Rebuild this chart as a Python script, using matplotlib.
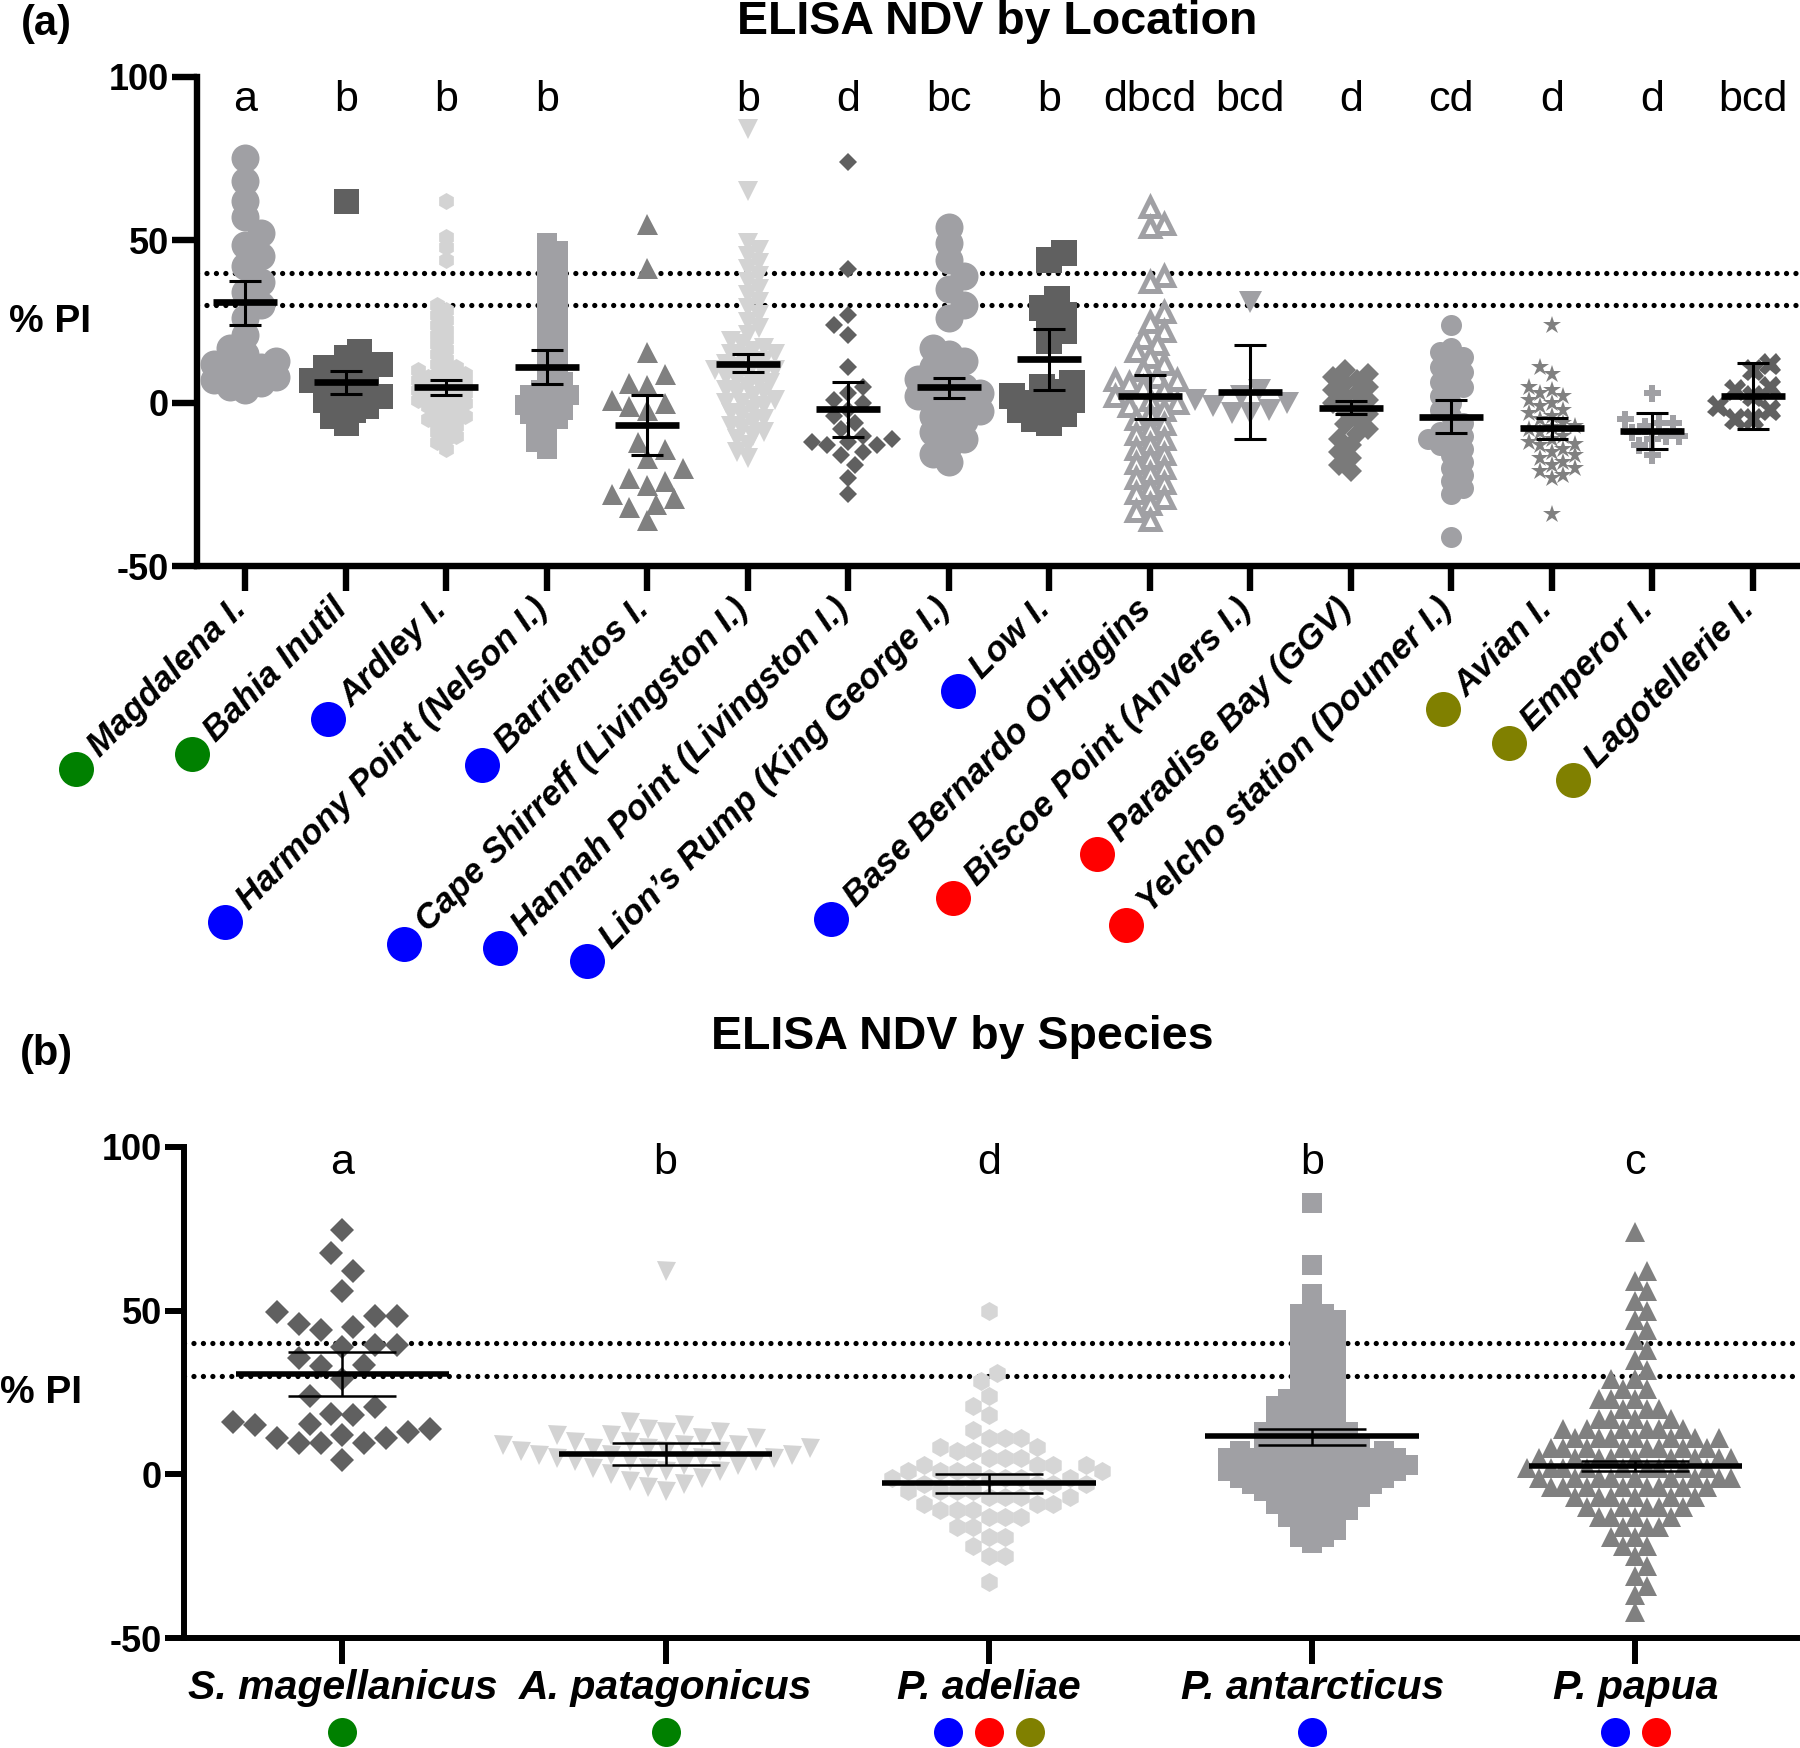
import numpy as np
import matplotlib
matplotlib.use("Agg")
import matplotlib.pyplot as plt
from matplotlib import transforms

plt.rcParams['font.family'] = ['Liberation Sans', 'DejaVu Sans']
plt.rcParams['lines.scale_dashes'] = False
plt.rcParams['axes.unicode_minus'] = False

W, H = 1800, 1748

# ---------------- (a) ELISA NDV by Location ----------------
locations = ['Magdalena I.', 'Bahia Inutil', 'Ardley I.', 'Harmony Point (Nelson I.)',
             'Barrientos I.', 'Cape Shirreff (Livingston I.)', 'Hannah Point (Livingston I.)',
             'Lion\u2019s Rump (King George I.)', 'Low I.', "Base Bernardo O'Higgins",
             'Biscoe Point (Anvers I.)', 'Paradise Bay (GGV)', 'Yelcho station (Doumer I.)',
             'Avian I.', 'Emperor I.', 'Lagotellerie I.']
loc_region = ['green', 'green', 'blue', 'blue', 'blue', 'blue', 'blue', 'blue', 'blue', 'blue',
              'red', 'red', 'red', 'olive', 'olive', 'olive']
loc_letters = ['a', 'b', 'b', 'b', '', 'b', 'd', 'bc', 'b', 'dbcd', 'bcd', 'd', 'cd', 'd', 'd', 'bcd']

magdalena = [75, 68, 62, 57, 52, 48.5, 45, 42, 37, 34, 30, 26, 21,
             17, 15, 13, 12, 11, 10, 9, 8, 7, 6, 5, 4]
bahia = [62, 16, 14, 12, 11, 10, 9, 8, 7, 6, 5, 4, 3, 2, 1, 0, -1, -2, -4, -6]
ardley_levels = [62, 51, 48, 44, 30, 28.5, 27, 25.5, 24, 22.5, 21, 19.5, 18, 16.5, 15, 13.5, 12,
                 11, 10, 9, 8, 7, 6, 5, 4, 3, 2, 1, 0, -1, -2, -3,
                 -4, -5, -6, -7, -8, -9, -10, -11, -12, -14]
ardley_counts = [1, 1, 1, 1, 1, 1, 1, 1, 1, 1, 1, 1, 1, 1, 1, 1, 1,
                 1, 2, 2, 2, 2, 2, 2, 2, 2, 2, 2, 2, 2, 1, 1,
                 2, 2, 1, 1, 1, 1, 1, 1, 1, 1]
harmony_levels = [49, 46.5, 44, 41.5, 39, 36.5, 34, 31.5, 29, 26.5, 24,
                  21.5, 19, 16.5, 14, 11.5, 9, 6.5,
                  4, 2.5, 1, -0.5, -2, -3.5, -5, -6.5, -8, -10, -12, -14]
harmony_counts = [1] * 18 + [2, 2, 2, 2, 2, 2, 1, 1, 1, 1, 1, 1]
barrientos = [55, 41.5, 15.5, 9, 6, 5.5, 1, 0, -1, -2, -12, -14, -17, -20, -23, -24, -25, -28,
              -29, -31, -32, -36]
shirreff_levels = [84, 65, 49, 47, 45, 43, 41, 39, 37, 35, 33, 31, 29, 27, 25, 23, 21,
                   19, 18, 17, 16, 15, 14, 13, 12, 11, 10,
                   9, 8, 7, 6, 5, 4, 3, 2, 1, 0, -1, -2, -3,
                   -4, -5, -6, -7, -8, -9, -10, -11, -13, -15, -17]
shirreff_counts = [1] * 17 + [1, 1, 1, 1, 2, 1, 1, 2, 1, 2] + [2, 1, 1, 2, 1, 1, 2, 1, 1, 2, 1, 1, 1] + [1] * 11
hannah = [74, 41, 27, 24, 21, 11, 5, 3, 1, 0, -2, -4, -6, -8, -10, -11, -12, -12, -13, -13,
          -15, -16, -19, -23, -28]
lions_rump = [54, 49, 44, 39, 35, 30, 26, 17, 15, 13, 11, 9, 7.5, 6, 5, 4, 3, 2, 1, 0,
              -1, -2.5, -4, -5.5, -7, -9, -11, -13, -15.5, -18]
low = [46, 44, 32, 29, 27, 25, 22, 19, 6, 5, 3.5, 2, 1, 0, -1, -2, -3.5, -5, -6]
ohiggins = [60, 55, 54, 39, 37, 28, 25, 22, 20, 18, 16, 14, 12, 10, 8, 7, 7, 6, 5, 4, 2, 1, 0,
            -1, -2, -3.5, -5, -6.5, -8, -9.5, -11, -12.5, -14, -15.5, -17, -18.5, -20, -21.5, -23,
            -24.5, -26, -27.5, -29, -31, -33, -36]
biscoe = [31, 4, 2, 1, 0, -1, -2, -3, -3]
paradise = [10, 9, 8, 7, 6, 5, 4, 3, 2, 1, 0, -1, -2, -3.5, -5, -6.5, -8, -9.5, -11, -13, -15,
            -17, -19, -21]
yelcho = [24, 17, 15.5, 14, 12.5, 11, 9.5, 8, 6.5, 5, 4, 2, 0, -2, -4, -6, -8, -9, -10, -11, -12,
          -13, -14, -16, -18, -20, -22, -24, -26, -28, -41]
avian = [24, 11, 9, 5, 4, 3, 2, 1, 0, -1, -2, -3, -4, -5, -6, -7, -7.5, -8, -9, -10, -11, -12,
         -12.5, -13, -14, -15, -16, -17, -18, -19, -20, -21, -22, -23, -34]
emperor = [3, -5, -6, -6, -7, -9, -10, -10, -11, -13, -16]
lagotellerie = [12, 10, 5, 4, 2, -1, -2, -5, -5]

ardley = np.repeat(ardley_levels, ardley_counts)
harmony = np.repeat(harmony_levels, harmony_counts)
shirreff = np.repeat(shirreff_levels, shirreff_counts)

loc_values = [magdalena, bahia, ardley, harmony, barrientos, shirreff, hannah, lions_rump,
              low, ohiggins, biscoe, paradise, yelcho, avian, emperor, lagotellerie]
loc_mean = [31, 6.5, 4.8, 11, -6.9, 12.1, -1.8, 4.8, 13.5, 2.2, 3.3, -1.5, -4.3, -7.7, -8.5, 2.2]
loc_ci_hi = [37.4, 9.9, 7.0, 16.4, 2.4, 15.0, 6.5, 7.8, 22.7, 8.6, 17.8, 0.6, 0.8, -4.5, -3.2, 12.2]
loc_ci_lo = [23.8, 2.8, 2.5, 5.9, -16.1, 9.4, -10.5, 1.4, 4.0, -4.9, -11.0, -3.5, -9.2, -11.1,
             -14.0, -8.1]

# ---------------- (b) ELISA NDV by Species ----------------
species = ['S. magellanicus', 'A. patagonicus', 'P. adeliae', 'P. antarcticus', 'P. papua']
species_regions = [['green'], ['green'], ['blue', 'red', 'olive'], ['blue'], ['blue', 'red']]
species_letters = ['a', 'b', 'd', 'b', 'c']

s_magellanicus = [74.5, 67.5, 62, 56, 49.5, 48.5, 48.5, 44, 45, 46, 39, 39.5, 39.5, 35.5, 33, 33.5,
                  29, 24, 20.5, 18.5, 18, 14, 16, 15.5, 15, 11, 11, 9.5, 9.5, 9.5, 12, 13, 4.5]
a_patagonicus = [62, 16, 15, 14, 13, 13, 12, 12, 11, 11, 10, 10, 9, 9, 9, 8, 8, 8, 7, 7, 7, 6, 6, 6,
                 5, 5, 5, 4, 4, 4, 3, 3, 2, 2, 1, 1, 0, -1, -2, -3, -4, -5]
adeliae_levels = [50, 31, 28.5, 24, 21, 18, 13.5, 11, 8.5, 7, 5, 3, 1, -1, -3, -5, -7, -9, -11, -13,
                  -16, -19, -22, -25, -33]
adeliae_counts = [1, 1, 1, 1, 1, 1, 1, 3, 2, 2, 3, 4, 5, 5, 4, 4, 4, 3, 3, 3, 2, 2, 1, 2, 1]
antarcticus_levels = [83, 64, 55, 51, 49, 47, 45, 43, 41, 39, 37, 35, 33, 31, 29, 27, 25,
                      23, 21, 19, 17, 15, 13, 11, 9, 7, 5, 3, 1, -1, -3,
                      -5, -7, -9, -11, -13, -15, -17, -19, -21]
antarcticus_counts = [1, 1, 1, 1, 2, 2, 2, 2, 2, 2, 2, 2, 2, 2, 2, 2, 2,
                      3, 3, 3, 3, 3, 4, 4, 4, 7, 8, 8, 8, 7, 6,
                      5, 4, 4, 3, 3, 2, 2, 2, 1]
papua_levels = [74, 62, 59, 56, 53, 50, 47, 44, 41, 38, 35, 32, 29, 26, 23, 20, 17, 14, 11, 8, 5, 2,
                -1, -4, -7, -10, -13, -16, -19, -22, -25, -28, -31, -34, -37, -42]
papua_counts = [1, 1, 1, 1, 1, 1, 1, 1, 1, 1, 1, 1, 2, 2, 3, 3, 4, 6, 7, 8, 9, 9,
                9, 8, 6, 5, 4, 3, 2, 2, 1, 1, 1, 1, 1, 1]

p_adeliae = np.repeat(adeliae_levels, adeliae_counts)
p_antarcticus = np.repeat(antarcticus_levels, antarcticus_counts)
p_papua = np.repeat(papua_levels, papua_counts)
sp_values = [s_magellanicus, a_patagonicus, p_adeliae, p_antarcticus, p_papua]
sp_mean = [30.8, 6.3, -2.7, 11.6, 2.6]
sp_ci_hi = [37.3, 9.7, 0.0, 14.0, 4.1]
sp_ci_lo = [23.9, 2.9, -5.7, 9.1, 0.9]

# ---------------- styles ----------------
region_color = {'green': '#008000', 'blue': '#0000ff', 'red': '#ff0000', 'olive': '#808000'}
loc_marker = ['o', 's', 'h', 's', '^', 'v', 'D', 'o', 's', '^', 'v', 'D', 'o', '*', 'P', 'X']
loc_color = ['#a0a0a4', '#606060', '#d3d3d3', '#a0a0a4', '#808080', '#d3d3d3', '#606060', '#a0a0a4',
             '#606060', '#a0a0a4', '#a0a0a4', '#7a7a7a', '#a0a0a4', '#808080', '#a0a0a4', '#606060']
loc_size = [28, 25, 17, 20, 21, 20, 17, 28, 27, 23, 23, 21, 21, 19, 17, 22]
loc_tight = [0.55, 0.55, 0.55, 0.55, 0.85, 0.55, 0.85, 0.55, 0.55, 0.6, 0.8, 0.55, 0.55, 0.6, 0.8, 0.8]
sp_marker = ['D', 'v', 'h', 's', '^']
sp_color = ['#606060', '#d3d3d3', '#d6d6d6', '#a0a0a4', '#808080']
sp_size = [23, 19, 19, 20, 20]
sp_tight = [0.95, 0.95, 0.85, 0.6, 0.6]


def swarm(vals, size_px, pxx, pxy, tight):
    y = np.asarray(vals, float) * pxy
    d = size_px * tight
    step = d / 2.0
    xs = np.zeros(len(y))
    px, py = [], []
    for i in np.argsort(y, kind='stable'):
        sign = 1 if len(px) % 2 == 0 else -1
        parr, qarr = np.array(px), np.array(py)
        for k in range(800):
            c = ((k + 1) // 2) * step * (1 if k % 2 else -1) * sign
            if len(px) == 0 or np.all((parr - c) ** 2 + (qarr - y[i]) ** 2 >= d * d - 1e-6):
                break
        xs[i] = c
        px.append(c)
        py.append(y[i])
    return xs / pxx


def draw_panel(ax, values, markers, colors, sizes, tights, means, lo, hi, pxx, pxy,
               mean_hw, cap_hw, mean_lw, ci_lw, open_idx=()):
    for i, vals in enumerate(values):
        off = swarm(vals, sizes[i], pxx, pxy, tights[i])
        ms = sizes[i] * 0.72
        if markers[i] == 'D':
            ms = ms / 1.41
        mfc, mew = colors[i], 0
        if i in open_idx:
            mfc, mew, ms = 'white', 3.6, (sizes[i] - 5) * 0.72
        ax.plot(i + off, vals, ls='none', marker=markers[i], ms=ms, mfc=mfc, mec=colors[i],
                mew=mew, zorder=3, clip_on=False)
    x = np.arange(len(values))
    ax.hlines(means, x - mean_hw, x + mean_hw, color='k', lw=mean_lw, zorder=5)
    ax.vlines(x, lo, hi, color='k', lw=ci_lw, zorder=5)
    ax.hlines(lo, x - cap_hw, x + cap_hw, color='k', lw=ci_lw, zorder=5)
    ax.hlines(hi, x - cap_hw, x + cap_hw, color='k', lw=ci_lw, zorder=5)
    for v in (40, 30):
        ax.axhline(v, color='k', lw=3.8, ls=(0, (0.01, 6.8)), dash_capstyle='round', zorder=2)


def style_axes(ax, spine_lw, ylen, xlen):
    for s in ('top', 'right'):
        ax.spines[s].set_visible(False)
    for s in ('left', 'bottom'):
        ax.spines[s].set_linewidth(spine_lw)
        ax.spines[s].set_capstyle('projecting')
    ax.set_ylim(-50, 100)
    ax.set_yticks([-50, 0, 50, 100])
    ax.tick_params(axis='y', length=ylen, width=spine_lw, labelsize=26, pad=2)
    ax.tick_params(axis='x', length=xlen, width=spine_lw, labelbottom=False)
    for lab in ax.get_yticklabels():
        lab.set_fontweight('bold')


fig = plt.figure(figsize=(W / 100, H / 100), dpi=100)

# panel (a)
ax1 = fig.add_axes([197 / W, 1 - 566 / H, (W - 197) / W, (566 - 77) / H])
ax1.set_xlim(-0.48, 15.47)
style_axes(ax1, 4.6, 18, 18)
ax1.set_xticks(range(len(locations)))
pxx1 = (W - 197) / 15.95
pxy1 = (566 - 77) / 150
draw_panel(ax1, loc_values, loc_marker, loc_color, loc_size, loc_tight, loc_mean, loc_ci_lo,
           loc_ci_hi, pxx1, pxy1, 0.32, 0.16, 4.8, 2.2, open_idx=(9,))
for i, let in enumerate(loc_letters):
    ax1.text(i, 89.5, let, ha='center', va='baseline', fontsize=31)

# panel (b)
ax2 = fig.add_axes([184 / W, 1 - 1638 / H, (1797 - 184) / W, (1638 - 1147) / H])
ax2.set_xlim(-0.49, 4.5)
style_axes(ax2, 4.3, 14, 19)
ax2.set_xticks(range(len(species)))
pxx2 = (1797 - 184) / 4.99
pxy2 = (1638 - 1147) / 150
draw_panel(ax2, sp_values, sp_marker, sp_color, sp_size, sp_tight, sp_mean, sp_ci_lo, sp_ci_hi,
           pxx2, pxy2, 0.33, 0.167, 4.0, 1.8)
for i, let in enumerate(species_letters):
    ax2.text(i, 91.7, let, ha='center', va='baseline', fontsize=31)

# titles and labels
fig.text(997 / W, 1 - 22 / H, 'ELISA NDV by Location', ha='center', va='center', fontsize=33.5,
         fontweight='bold')
fig.text(962 / W, 1 - 1037 / H, 'ELISA NDV by Species', ha='center', va='center', fontsize=33.5,
         fontweight='bold')
fig.text(46 / W, 1 - 24 / H, '(a)', ha='center', va='center', fontsize=30, fontweight='bold')
fig.text(46 / W, 1 - 1054 / H, '(b)', ha='center', va='center', fontsize=30, fontweight='bold')
fig.text(50 / W, 1 - 322 / H, '% PI', ha='center', va='center', fontsize=28, fontweight='bold')
fig.text(41 / W, 1 - 1393 / H, '% PI', ha='center', va='center', fontsize=28, fontweight='bold')

fig.canvas.draw()
renderer = fig.canvas.get_renderer()


def shifted(ax, dx_px, dy_px):
    base = transforms.blended_transform_factory(ax.transData, ax.transAxes)
    return base + transforms.ScaledTranslation(dx_px / fig.dpi, dy_px / fig.dpi, fig.dpi_scale_trans)


lab_kw = dict(fontsize=25, fontweight='bold', fontstyle='italic')
for i, name in enumerate(locations):
    ax1.text(i, 0, name, transform=shifted(ax1, -4, -38), rotation=45, rotation_mode='anchor',
             ha='right', va='center', **lab_kw)
    tmp = fig.text(0, 0, name, **lab_kw)
    w = tmp.get_window_extent(renderer).width
    tmp.remove()
    dist = (w + 25) * 0.7071
    ax1.plot([i], [0], marker='o', ms=35 * 0.72, color=region_color[loc_region[i]], mew=0,
             transform=shifted(ax1, -4 - dist, -38 - dist), clip_on=False)

for i, name in enumerate(species):
    ax2.text(i, 0, name, transform=shifted(ax2, 0, -50), ha='center', va='center', fontsize=29.5,
             fontweight='bold', fontstyle='italic')
    regs = species_regions[i]
    for j, r in enumerate(regs):
        dx = (j - (len(regs) - 1) / 2) * 41
        ax2.plot([i], [0], marker='o', ms=29 * 0.72, color=region_color[r], mew=0,
                 transform=shifted(ax2, dx, -94), clip_on=False)

fig.savefig('out.png', dpi=100)
